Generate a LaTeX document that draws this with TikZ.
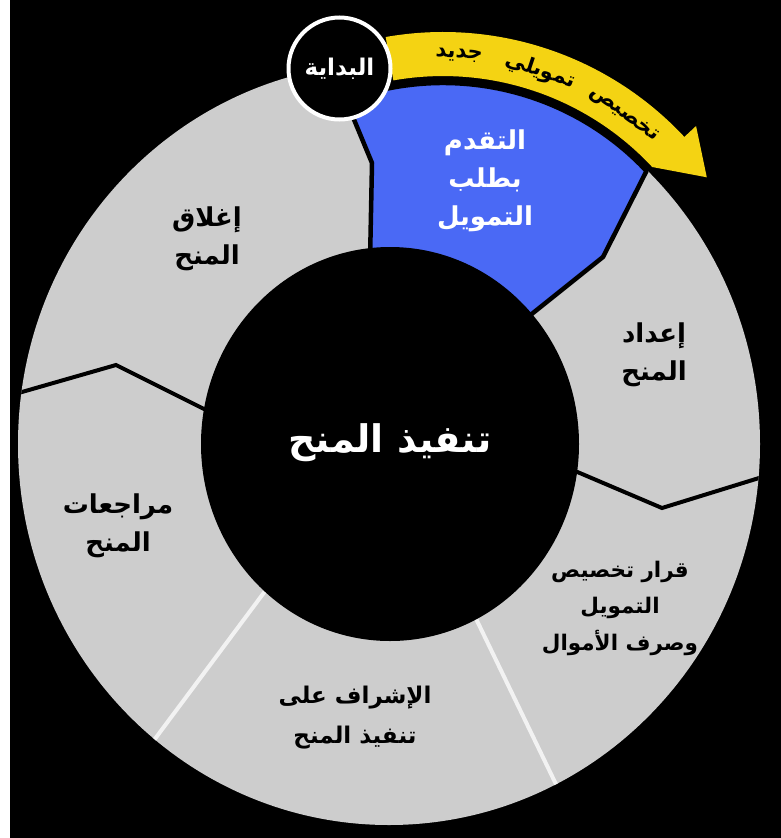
\documentclass[tikz,border=0pt]{standalone}
\usepackage{fontspec}
\newfontfamily\arabicfont[Script=Arabic]{DejaVu Sans}
\TeXXeTstate=1
\newcommand{\artxt}[1]{\beginR #1\endR}
\definecolor{ringgray}{HTML}{CDCDCD}
\definecolor{segblue}{HTML}{4A69F5}
\definecolor{arrowyellow}{HTML}{F4D313}
\definecolor{divwhitec}{HTML}{F2F2F2}
\begin{document}
\begin{tikzpicture}[x=1pt,y=-1pt,
  lbl/.style={font=\arabicfont\bfseries\fontsize{26}{38}\selectfont, align=center, text=black, inner sep=0pt},
  wlbl/.style={lbl, text=white},
  arctxt/.style={font=\arabicfont\bfseries\fontsize{21}{24}\selectfont, text=black, inner sep=0pt},
  divblack/.style={draw=black, line width=4pt, line join=miter},
  divwhite/.style={draw=divwhitec, line width=4pt}]
\useasboundingbox (0,0) rectangle (781,838);
\fill[black] (0,0) rectangle (781,838);
\fill[white] (0,0) rectangle (10,838);
% ring
\fill[ringgray] (389,444) ellipse[x radius=371, y radius=381];
% dividers
\begin{scope}
  \clip (389,444) ellipse[x radius=371, y radius=381];
  \draw[divblack] (568,468) -- (662,508) -- (772,474);
  \draw[divblack] (8,396) -- (116,365) -- (210,412);
  \draw[divwhite] (283,567) -- (140,759);
  \draw[divwhite] (466,598) -- (567,807);
\end{scope}
% black cut above the blue segment
\fill[black] (646.5,171.0) arc[start angle=-43.2, end angle=-110, radius=279]
   -- ++(-110:74) arc[start angle=-110, end angle=-43.2, radius=353] -- cycle;
% blue segment
\filldraw[fill=segblue, draw=black, line width=4.5pt, line join=round]
  (646.5,171.0) arc[start angle=-43.2, end angle=-108, radius=279]
  -- (346,100) -- (355,122) -- (372,163) -- (370,262) -- (420,420)
  -- (500,340) -- (533,313) -- (603,257) -- cycle;
% inner disc
\fill[black] (390,444) ellipse[x radius=189, y radius=197];
% yellow arrow
\fill[arrowyellow] (443,362) ++(-100:330) arc[start angle=-100, end angle=-43, radius=330]
  -- ++(-43:16) -- (706.8,177.3) -- (652.2,167.0)
  arc[start angle=-43, end angle=-100, radius=286] -- cycle;
% start circle
\node[circle, fill=black, draw=white, line width=4pt, minimum size=102pt, inner sep=0pt,
      font=\arabicfont\bfseries\fontsize{23}{26}\selectfont, text=white] (start) at (339.5,68.5) {\artxt{البداية}};
% arrow label (one word per rotated node, along the arc)
\node[arctxt, rotate=-3] (w1) at (459.1,55.4) {\artxt{جديد}};
\node[arctxt, rotate=-18.5] (w2) at (540.4,70.9) {\artxt{تمويلي}};
\node[arctxt, rotate=-36] (w3) at (623.5,114.5) {\artxt{تخصيص}};
% labels
\node[wlbl] (apply) at (485,181) {\artxt{التقدم}\\\artxt{بطلب}\\\artxt{التمويل}};
\node[lbl] (prep) at (654,355) {\artxt{إعداد}\\\artxt{المنح}};
\node[lbl, font=\arabicfont\bfseries\fontsize{21.5}{36.5}\selectfont] (decide) at (620,608) {\artxt{قرار تخصيص}\\\artxt{التمويل}\\\artxt{وصرف الأموال}};
\node[lbl, font=\arabicfont\bfseries\fontsize{23}{40}\selectfont] (monitor) at (355,718) {\artxt{الإشراف على}\\\artxt{تنفيذ المنح}};
\node[lbl] (review) at (118,526) {\artxt{مراجعات}\\\artxt{المنح}};
\node[lbl] (close) at (207,239) {\artxt{إغلاق}\\\artxt{المنح}};
\node[font=\arabicfont\bfseries\fontsize{38}{42}\selectfont, text=white, inner sep=0pt] (center) at (390,443) {\artxt{تنفيذ المنح}};
\end{tikzpicture}
\end{document}
